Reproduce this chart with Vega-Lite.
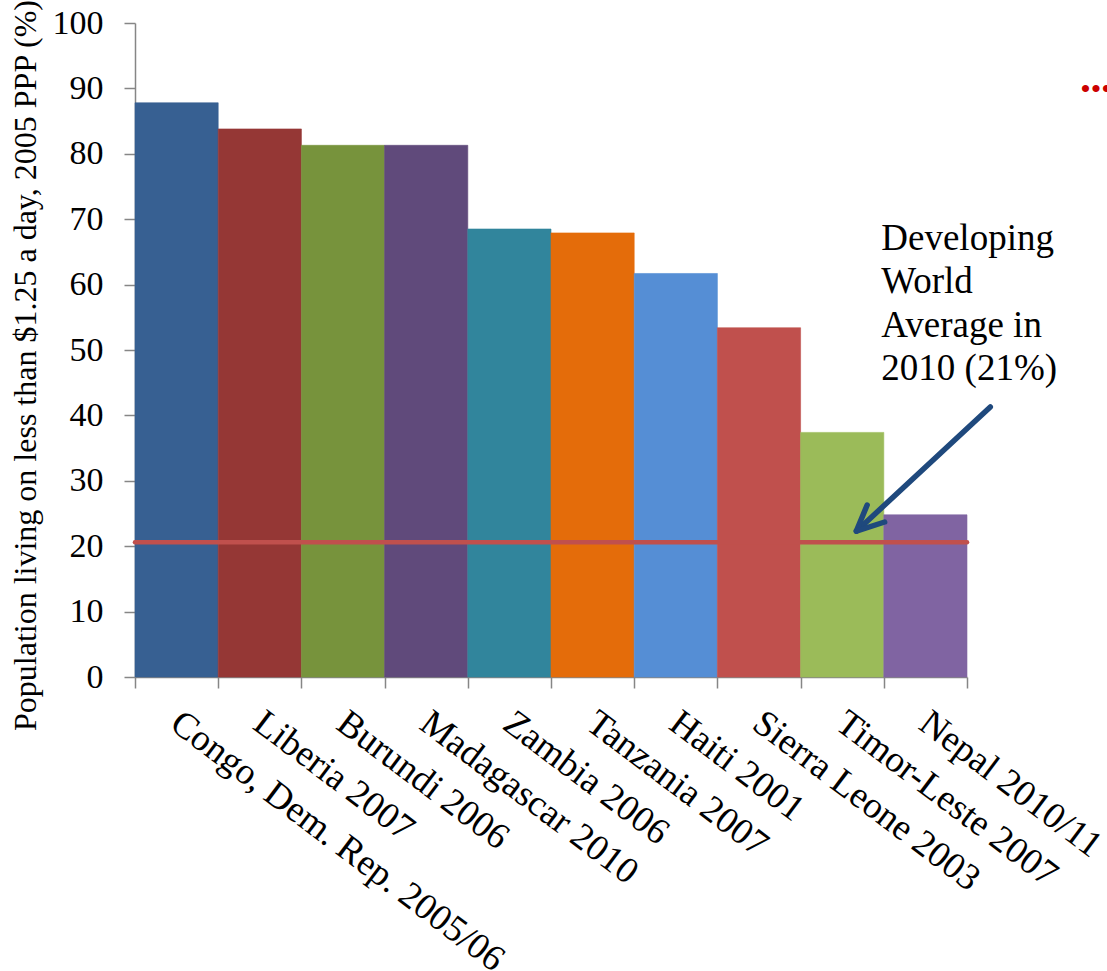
{
  "$schema": "https://vega.github.io/schema/vega-lite/v6.json",
  "autosize": {"type": "none"},
  "padding": {"left": 135, "top": 23, "right": 140, "bottom": 294},
  "width": 832,
  "height": 654,
  "background": "white",
  "config": {"view": {"stroke": null}, "font": "Liberation Serif"},
  "resolve": {"scale": {"x": "independent"}},
  "layer": [
    {
      "data": {"values": [
        {"country": "Congo, Dem. Rep. 2005/06", "v": 87.8},
        {"country": "Liberia 2007", "v": 83.8},
        {"country": "Burundi 2006", "v": 81.3},
        {"country": "Madagascar 2010", "v": 81.3},
        {"country": "Zambia 2006", "v": 68.5},
        {"country": "Tanzania 2007", "v": 67.9},
        {"country": "Haiti 2001", "v": 61.7},
        {"country": "Sierra Leone 2003", "v": 53.4},
        {"country": "Timor-Leste 2007", "v": 37.4},
        {"country": "Nepal 2010/11", "v": 24.8}
      ]},
      "mark": {"type": "bar", "strokeWidth": 0.6},
      "encoding": {
        "x": {
          "field": "country", "type": "nominal", "sort": null,
          "scale": {"paddingInner": 0, "paddingOuter": 0},
          "axis": {
            "title": null, "ticks": false, "domain": true,
            "domainColor": "#868686", "domainWidth": 1.5,
            "labelAngle": 37, "labelAlign": "left", "labelBaseline": "top",
            "labelFontSize": 37, "labelColor": "black", "labelPadding": 27, "labelOffset": 9,
            "labelLimit": 0, "labelOverlap": false
          }
        },
        "y": {
          "field": "v", "type": "quantitative",
          "scale": {"domain": [0, 100], "nice": false},
          "axis": {
            "title": "Population living on less than $1.25 a day, 2005 PPP (%)",
            "values": [0, 10, 20, 30, 40, 50, 60, 70, 80, 90, 100],
            "grid": false, "tickSize": 11, "tickColor": "#868686", "tickWidth": 1.5,
            "domainColor": "#868686", "domainWidth": 1.5,
            "labelFontSize": 34, "labelColor": "black", "labelPadding": 21,
            "titleFontSize": 32, "titleFontWeight": "normal", "titleColor": "black",
            "titleX": -100, "titleY": 342, "titleAlign": "center", "titleBaseline": "alphabetic", "titleAngle": -90
          }
        },
        "color": {
          "field": "country", "type": "nominal", "sort": null, "legend": null,
          "scale": {"range": ["#376092", "#953735", "#77933C", "#604A7B", "#31859C", "#E46C0A", "#558ED5", "#C0504D", "#9BBB59", "#8064A2"]}
        },
        "stroke": {
          "field": "country", "type": "nominal", "sort": null, "legend": null,
          "scale": {"range": ["#376092", "#953735", "#77933C", "#604A7B", "#31859C", "#E46C0A", "#558ED5", "#C0504D", "#9BBB59", "#8064A2"]}
        }
      }
    },
    {
      "data": {"values": [{"x": 0, "x2": 10, "v": 20.6}]},
      "mark": {"type": "rule", "color": "#C0504D", "strokeWidth": 4.5, "strokeCap": "round"},
      "encoding": {
        "x": {
          "field": "x", "type": "quantitative",
          "scale": {"domain": [0, 10], "nice": false, "zero": false},
          "axis": {
            "orient": "bottom",
            "title": null, "labels": false, "domain": false, "grid": false,
            "values": [0, 1, 2, 3, 4, 5, 6, 7, 8, 9, 10],
            "tickSize": 11, "tickColor": "#868686", "tickWidth": 1.5
          }
        },
        "x2": {"field": "x2"},
        "y": {"field": "v", "type": "quantitative"}
      }
    },
    {
      "data": {"values": [
        {"x": 10.28, "v": 41.3, "x2": 8.68, "v2": 22.4},
        {"x": 8.67, "v": 22.3, "x2": 8.80, "v2": 26.3},
        {"x": 8.67, "v": 22.3, "x2": 9.01, "v2": 23.7}
      ]},
      "mark": {"type": "rule", "color": "#1F497D", "strokeWidth": 5.5, "strokeCap": "round"},
      "encoding": {
        "x": {"field": "x", "type": "quantitative", "scale": {"domain": [0, 10], "nice": false, "zero": false}, "axis": null},
        "x2": {"field": "x2"},
        "y": {"field": "v", "type": "quantitative"},
        "y2": {"field": "v2"}
      }
    },
    {
      "data": {"values": [
        {"x": 8.97, "v": 65.3, "label": "Developing\nWorld\nAverage in\n2010 (21%)"}
      ]},
      "mark": {"type": "text", "align": "left", "baseline": "alphabetic", "fontSize": 37, "lineHeight": 43.3, "lineBreak": "\n", "color": "black"},
      "encoding": {
        "x": {"field": "x", "type": "quantitative", "scale": {"domain": [0, 10], "nice": false, "zero": false}, "axis": null},
        "y": {"field": "v", "type": "quantitative"},
        "text": {"field": "label"}
      }
    },
    {
      "data": {"values": [{"x": 11.36, "v": 89.8, "label": "•••"}]},
      "mark": {"type": "text", "align": "left", "baseline": "middle", "fontSize": 30, "color": "#CC0000"},
      "encoding": {
        "x": {"field": "x", "type": "quantitative", "scale": {"domain": [0, 10], "nice": false, "zero": false}, "axis": null},
        "y": {"field": "v", "type": "quantitative"},
        "text": {"field": "label"}
      }
    }
  ]
}
